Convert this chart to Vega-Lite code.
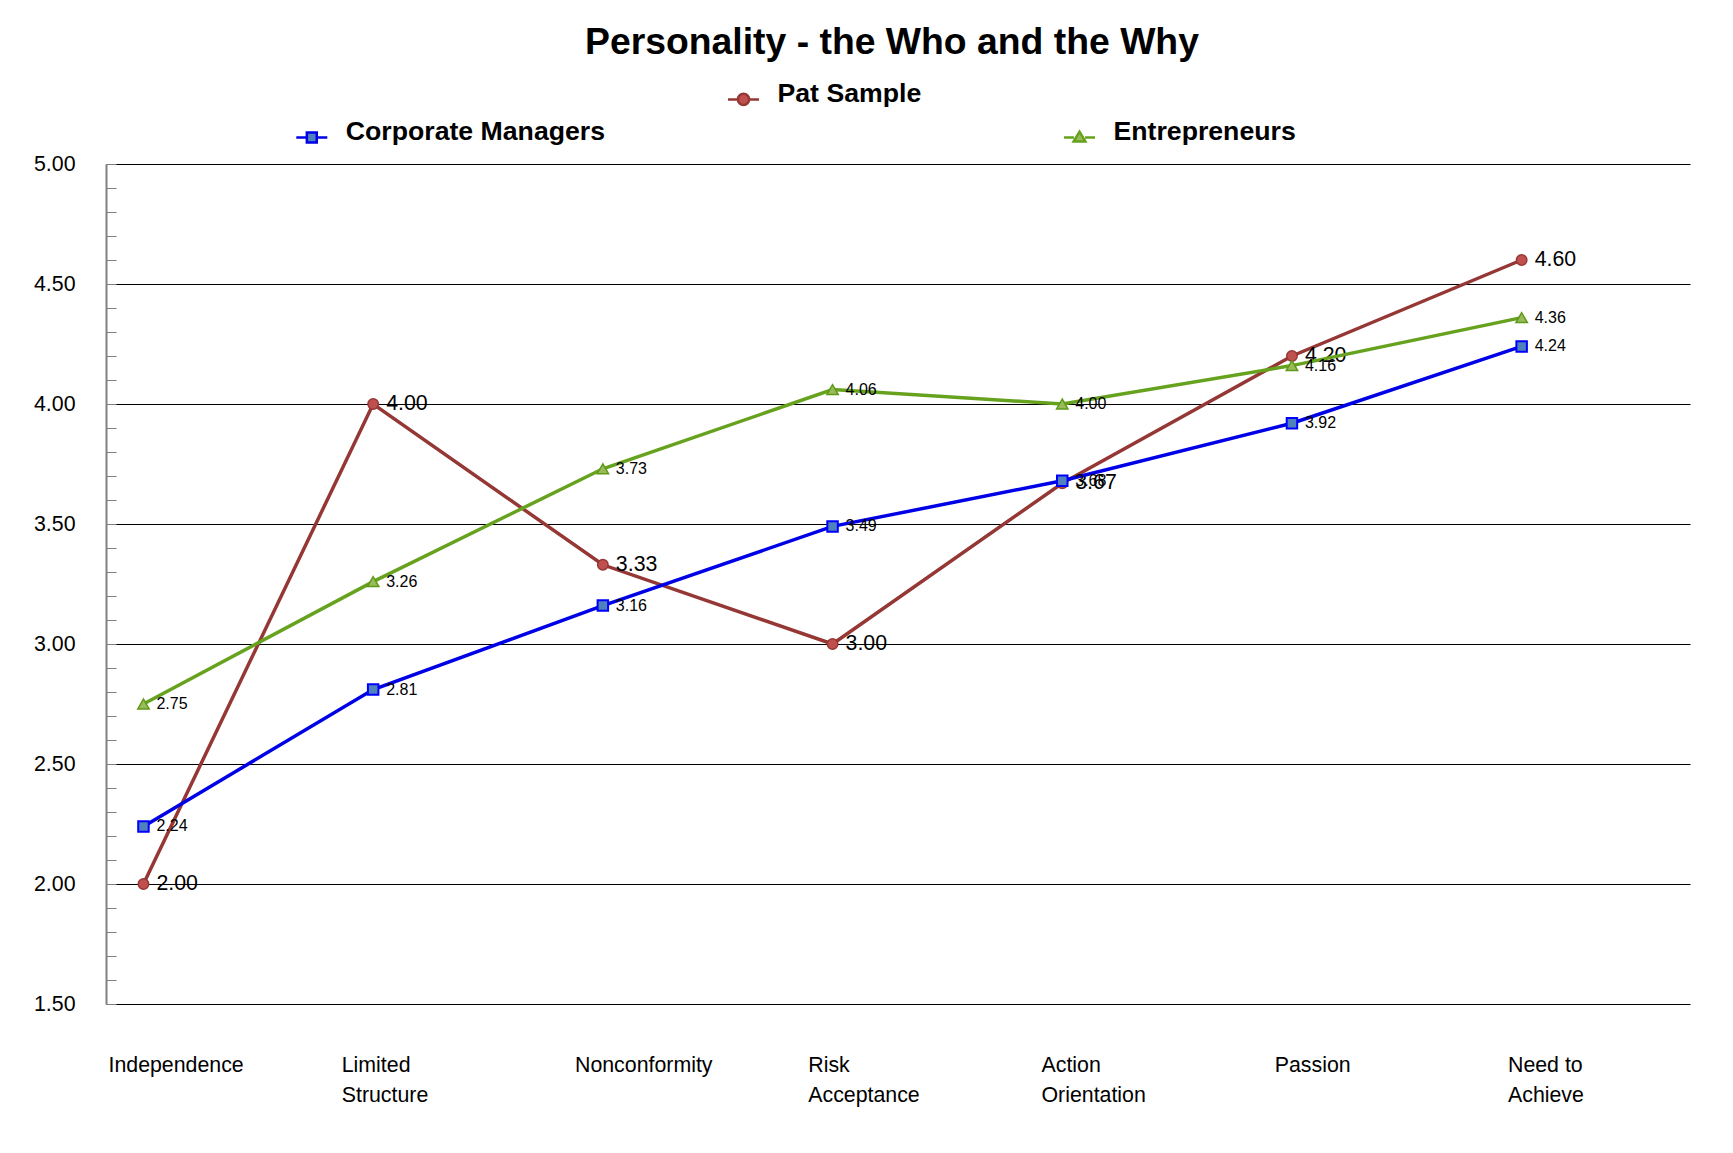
{
  "$schema": "https://vega.github.io/schema/vega-lite/v6.json",
  "width": 1584,
  "height": 840,
  "autosize": {"type": "none"},
  "padding": {"left": 106, "top": 164, "right": 43, "bottom": 149},
  "background": "white",
  "title": {
    "text": "Personality - the Who and the Why",
    "font": "Liberation Sans",
    "fontSize": 37.33,
    "fontWeight": "bold",
    "color": "black",
    "anchor": "middle",
    "frame": "group",
    "baseline": "alphabetic",
    "offset": -14,
    "dx": -6
  },
  "data": {
    "values": [
      {"trait": "Independence", "series": "Pat Sample", "value": 2.00},
      {"trait": "Limited Structure", "series": "Pat Sample", "value": 4.00},
      {"trait": "Nonconformity", "series": "Pat Sample", "value": 3.33},
      {"trait": "Risk Acceptance", "series": "Pat Sample", "value": 3.00},
      {"trait": "Action Orientation", "series": "Pat Sample", "value": 3.67},
      {"trait": "Passion", "series": "Pat Sample", "value": 4.20},
      {"trait": "Need to Achieve", "series": "Pat Sample", "value": 4.60},
      {"trait": "Independence", "series": "Corporate Managers", "value": 2.24},
      {"trait": "Limited Structure", "series": "Corporate Managers", "value": 2.81},
      {"trait": "Nonconformity", "series": "Corporate Managers", "value": 3.16},
      {"trait": "Risk Acceptance", "series": "Corporate Managers", "value": 3.49},
      {"trait": "Action Orientation", "series": "Corporate Managers", "value": 3.68},
      {"trait": "Passion", "series": "Corporate Managers", "value": 3.92},
      {"trait": "Need to Achieve", "series": "Corporate Managers", "value": 4.24},
      {"trait": "Independence", "series": "Entrepreneurs", "value": 2.75},
      {"trait": "Limited Structure", "series": "Entrepreneurs", "value": 3.26},
      {"trait": "Nonconformity", "series": "Entrepreneurs", "value": 3.73},
      {"trait": "Risk Acceptance", "series": "Entrepreneurs", "value": 4.06},
      {"trait": "Action Orientation", "series": "Entrepreneurs", "value": 4.00},
      {"trait": "Passion", "series": "Entrepreneurs", "value": 4.16},
      {"trait": "Need to Achieve", "series": "Entrepreneurs", "value": 4.36}
    ]
  },
  "encoding": {
    "x": {
      "field": "trait",
      "type": "nominal",
      "sort": null,
      "scale": {
        "type": "point",
        "domain": ["Independence", "Limited Structure", "Nonconformity", "Risk Acceptance", "Action Orientation", "Passion", "Need to Achieve"],
        "padding": 0.448,
        "align": 0.182
      },
      "axis": null
    },
    "y": {
      "field": "value",
      "type": "quantitative",
      "scale": {"domain": [1.5, 5], "nice": false, "zero": false},
      "axis": {
        "title": null,
        "values": [1.5, 1.6, 1.7, 1.8, 1.9, 2.0, 2.1, 2.2, 2.3, 2.4, 2.5, 2.6, 2.7, 2.8, 2.9, 3.0, 3.1, 3.2, 3.3, 3.4, 3.5, 3.6, 3.7, 3.8, 3.9, 4.0, 4.1, 4.2, 4.3, 4.4, 4.5, 4.6, 4.7, 4.8, 4.9, 5.0],
        "labelExpr": "abs(datum.value * 2 - round(datum.value * 2)) < 0.01 ? format(datum.value, '.2f') : ''",
        "grid": true,
        "gridColor": "black",
        "gridWidth": 1,
        "gridOpacity": {"condition": {"test": "abs(datum.value * 2 - round(datum.value * 2)) < 0.01", "value": 1}, "value": 0},
        "tickSize": -10,
        "tickColor": "#808080",
        "tickWidth": 1,
        "domainColor": "#808080",
        "domainWidth": 2,
        "labelFont": "Liberation Sans",
        "labelFontSize": 21.33,
        "labelColor": "black",
        "labelPadding": 41,
        "labelOverlap": false
      }
    }
  },
  "layer": [
    {
      "transform": [{"filter": "datum.series == 'Pat Sample'"}],
      "layer": [
        {
          "mark": {"type": "line", "strokeWidth": 3.5},
          "encoding": {
            "color": {
              "field": "series",
              "type": "nominal",
              "scale": {"domain": ["Pat Sample"], "range": ["#953735"]},
              "legend": {
                "orient": "none",
                "legendX": 620.5,
                "legendY": -87,
                "title": null,
                "padding": 0,
                "symbolType": "M-1,0.35H-0.36M0.36,0.35H1M0.36,0.35A0.36,0.36,0,1,1,-0.36,0.35A0.36,0.36,0,1,1,0.36,0.35Z",
                "symbolSize": 961,
                "labelFont": "Liberation Sans",
                "labelFontSize": 26.67,
                "labelFontWeight": "bold",
                "labelColor": "black",
                "labelOffset": 17,
                "labelLimit": 0,
                "encode": {"symbols": {"update": {"fill": {"value": "#C0504D"}, "stroke": {"value": "#953735"}, "strokeWidth": {"value": 2.5}, "opacity": {"value": 1}}}}
              }
            }
          }
        },
        {
          "mark": {"type": "point", "shape": "circle", "size": 110, "filled": true, "fill": "#C0504D", "stroke": "#953735", "strokeWidth": 1.5, "opacity": 1}
        },
        {
          "mark": {"type": "text", "align": "left", "baseline": "middle", "dx": 13, "font": "Liberation Sans", "fontSize": 21.33, "color": "black"},
          "encoding": {"text": {"field": "value", "type": "quantitative", "format": ".2f"}}
        }
      ]
    },
    {
      "transform": [{"filter": "datum.series == 'Corporate Managers'"}],
      "layer": [
        {
          "mark": {"type": "line", "strokeWidth": 3.5},
          "encoding": {
            "color": {
              "field": "series",
              "type": "nominal",
              "scale": {"domain": ["Corporate Managers"], "range": ["#0000E6"]},
              "legend": {
                "orient": "none",
                "legendX": 188.8,
                "legendY": -49,
                "title": null,
                "padding": 0,
                "symbolType": "M-1,0.35H-0.32M0.32,0.35H1M-0.32,0.03H0.32V0.67H-0.32Z",
                "symbolSize": 961,
                "labelFont": "Liberation Sans",
                "labelFontSize": 26.67,
                "labelFontWeight": "bold",
                "labelColor": "black",
                "labelOffset": 17,
                "labelLimit": 0,
                "encode": {"symbols": {"update": {"fill": {"value": "#4F81BD"}, "stroke": {"value": "#0000E6"}, "strokeWidth": {"value": 2.5}, "opacity": {"value": 1}}}}
              }
            }
          }
        },
        {
          "mark": {"type": "point", "shape": "square", "size": 110, "filled": true, "fill": "#4F81BD", "stroke": "#0000FF", "strokeWidth": 2, "opacity": 1}
        },
        {
          "mark": {"type": "text", "align": "left", "baseline": "middle", "dx": 13, "font": "Liberation Sans", "fontSize": 16, "color": "black"},
          "encoding": {"text": {"field": "value", "type": "quantitative", "format": ".2f"}}
        }
      ]
    },
    {
      "transform": [{"filter": "datum.series == 'Entrepreneurs'"}],
      "layer": [
        {
          "mark": {"type": "line", "strokeWidth": 3.5},
          "encoding": {
            "color": {
              "field": "series",
              "type": "nominal",
              "scale": {"domain": ["Entrepreneurs"], "range": ["#66A21E"]},
              "legend": {
                "orient": "none",
                "legendX": 956.5,
                "legendY": -49,
                "title": null,
                "padding": 0,
                "symbolType": "M-1,0.35H-0.36M0.36,0.35H1M0,-0.02L0.38,0.62H-0.38Z",
                "symbolSize": 961,
                "labelFont": "Liberation Sans",
                "labelFontSize": 26.67,
                "labelFontWeight": "bold",
                "labelColor": "black",
                "labelOffset": 17,
                "labelLimit": 0,
                "encode": {"symbols": {"update": {"fill": {"value": "#9BBB59"}, "stroke": {"value": "#5E9A1A"}, "strokeWidth": {"value": 2.5}, "opacity": {"value": 1}}}}
              }
            }
          }
        },
        {
          "mark": {"type": "point", "shape": "triangle-up", "size": 130, "filled": true, "fill": "#9BBB59", "stroke": "#5E9A1A", "strokeWidth": 1.5, "opacity": 1}
        },
        {
          "mark": {"type": "text", "align": "left", "baseline": "middle", "dx": 13, "font": "Liberation Sans", "fontSize": 16, "color": "black"},
          "encoding": {"text": {"field": "value", "type": "quantitative", "format": ".2f"}}
        }
      ]
    },
    {
      "transform": [{"filter": "datum.series == 'Pat Sample'"}],
      "mark": {"type": "point", "opacity": 0},
      "encoding": {
        "x": {
          "field": "trait",
          "type": "nominal",
          "sort": null,
          "scale": {
            "type": "point",
            "domain": ["Independence", "Limited Structure", "Nonconformity", "Risk Acceptance", "Action Orientation", "Passion", "Need to Achieve"],
            "padding": 0.3955,
            "align": 0.0108
          },
          "axis": {
            "orient": "bottom",
            "title": null,
            "labelAngle": 0,
            "labelAlign": "left",
            "labelBaseline": "top",
            "labelPadding": 50,
            "labelLineHeight": 30,
            "ticks": false,
            "domain": false,
            "grid": false,
            "labelFont": "Liberation Sans",
            "labelFontSize": 21.33,
            "labelColor": "black",
            "labelLimit": 0,
            "labelOverlap": false,
            "labelExpr": "indexof(datum.value, ' ') < 0 ? datum.value : [substring(datum.value, 0, lastindexof(datum.value, ' ')), substring(datum.value, lastindexof(datum.value, ' ') + 1)]"
          }
        }
      }
    }
  ],
  "resolve": {
    "scale": {"color": "independent", "x": "independent"},
    "legend": {"color": "independent"},
    "axis": {"x": "independent"}
  },
  "config": {
    "view": {"stroke": null}
  }
}
